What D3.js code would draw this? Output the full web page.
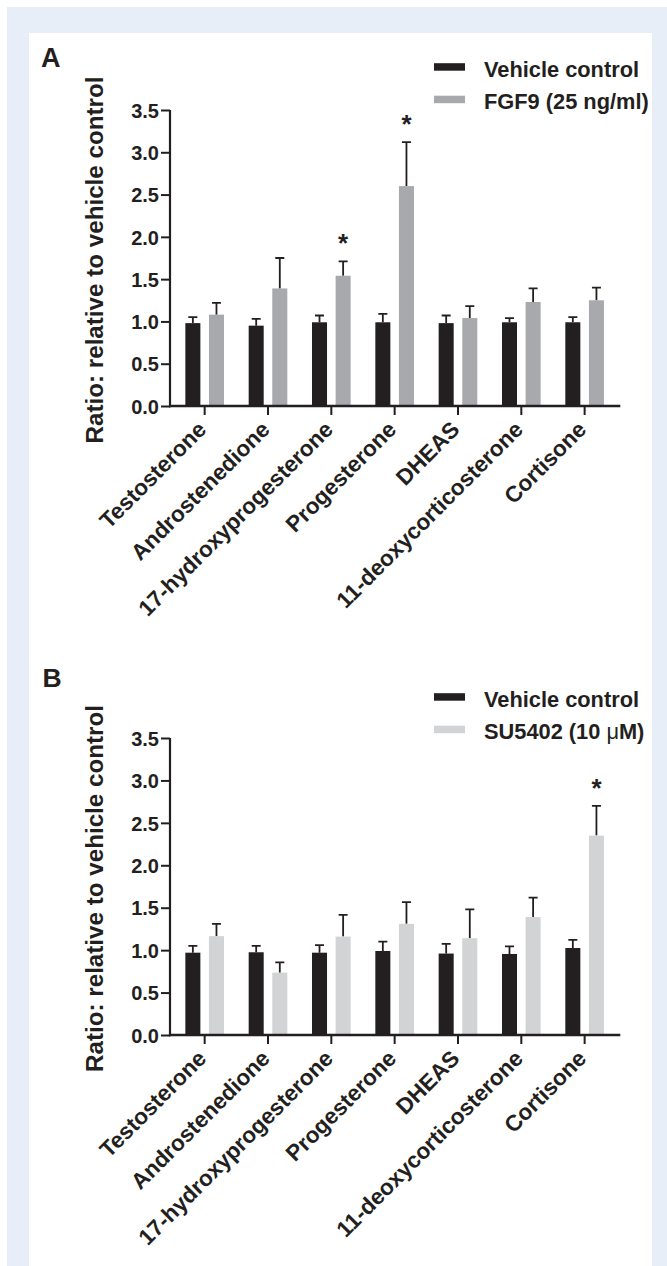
<!DOCTYPE html>
<html>
<head>
<meta charset="utf-8">
<script src="https://cdn.jsdelivr.net/npm/d3@7/dist/d3.min.js"></script>
<style>
  html, body { margin: 0; padding: 0; background: #ffffff; }
  svg { display: block; }
  text { font-family: "Liberation Sans", Arial, Helvetica, sans-serif; font-weight: bold; fill: #231f20; }
</style>
</head>
<body>
<svg id="chart" width="667" height="1266"></svg>
<script>
// ---------------- DATA ----------------
const categories = ["Testosterone", "Androstenedione", "17-hydroxyprogesterone", "Progesterone", "DHEAS", "11-deoxycorticosterone", "Cortisone"];
const yTicks = [0, 0.5, 1.0, 1.5, 2.0, 2.5, 3.0, 3.5];

// Panel A
const seriesNamesA = ["Vehicle control", "FGF9 (25 ng/ml)"];
const vehicleA = [0.98, 0.95, 0.99, 0.99, 0.98, 0.99, 0.99];
const vehicleErrA = [0.07, 0.08, 0.08, 0.10, 0.09, 0.05, 0.06];
const fgf9A = [1.08, 1.39, 1.54, 2.60, 1.04, 1.23, 1.25];
const fgf9ErrA = [0.14, 0.36, 0.17, 0.52, 0.14, 0.16, 0.15];
const sigA = [false, false, true, true, false, false, false];

// Panel B
const seriesNamesB = ["Vehicle control", "SU5402 (10 μM)"];
const vehicleB = [0.97, 0.975, 0.97, 0.99, 0.96, 0.955, 1.025];
const vehicleErrB = [0.08, 0.075, 0.09, 0.11, 0.115, 0.09, 0.095];
const su5402B = [1.165, 0.735, 1.16, 1.31, 1.14, 1.39, 2.35];
const su5402ErrB = [0.145, 0.12, 0.255, 0.255, 0.34, 0.23, 0.35];
const sigB = [false, false, false, false, false, false, true];

const yLabel = "Ratio: relative to vehicle control";

// ---------------- LAYOUT ----------------
const ink = "#231f20";
const panels = [
  { letter: "A", letterX: 41, letterY: 67, letterSize: 27,
    yBottom: 406, yTop: 110, legendY: 76.7,
    names: seriesNamesA, veh: vehicleA, vehErr: vehicleErrA, trt: fgf9A, trtErr: fgf9ErrA, sig: sigA,
    colors: [ink, "#a7a9ac"] },
  { letter: "B", letterX: 42.5, letterY: 687, letterSize: 26.5,
    yBottom: 1035, yTop: 738, legendY: 706.7,
    names: seriesNamesB, veh: vehicleB, vehErr: vehicleErrB, trt: su5402B, trtErr: su5402ErrB, sig: sigB,
    colors: [ink, "#d1d3d4"] }
];

const svg = d3.select("#chart");

// frame
svg.append("rect").attr("x", 7).attr("y", 7).attr("width", 660).attr("height", 1259).attr("fill", "#e7eef8");
svg.append("rect").attr("x", 29).attr("y", 33).attr("width", 623).attr("height", 1233).attr("fill", "#ffffff");

const x = d3.scaleBand().domain(categories).range([173, 616.3]).padding(0);
const sub = d3.scaleBand().domain([0, 1]).range([0, x.bandwidth()]).paddingInner(0.364).paddingOuter(0.523);
const yAxisX = 170;

panels.forEach(p => {
  const g = svg.append("g");
  const y = d3.scaleLinear().domain([0, 3.5]).range([p.yBottom, p.yTop]);

  // panel letter
  g.append("text").attr("x", p.letterX).attr("y", p.letterY).attr("font-size", p.letterSize).text(p.letter);

  // y label
  g.append("text")
    .attr("transform", `translate(103,${(p.yBottom + p.yTop) / 2 + 2}) rotate(-90)`)
    .attr("text-anchor", "middle").attr("font-size", 24.2).text(yLabel);

  // bars
  const rows = categories.map((c, i) => ({ c, i, vals: [
    { k: 0, v: p.veh[i], e: p.vehErr[i] },
    { k: 1, v: p.trt[i], e: p.trtErr[i] } ] }));

  const grp = g.selectAll("g.grp").data(rows).join("g").attr("class", "grp")
    .attr("transform", d => `translate(${x(d.c)},0)`);

  // error bars (upper only)
  grp.selectAll("path.err").data(d => d.vals).join("path").attr("class", "err")
    .attr("d", d => {
      const cx = sub(d.k) + sub.bandwidth() / 2;
      const top = y(d.v + d.e);
      return `M${cx},${y(d.v)}V${top}M${cx - 4.5},${top}H${cx + 4.5}`;
    })
    .attr("stroke", ink).attr("stroke-width", 1.8).attr("fill", "none");

  grp.selectAll("rect").data(d => d.vals).join("rect")
    .attr("x", d => sub(d.k)).attr("width", sub.bandwidth())
    .attr("y", d => y(d.v)).attr("height", d => y(0) - y(d.v))
    .attr("fill", d => p.colors[d.k]);

  // significance stars
  grp.filter(d => p.sig[d.i]).append("text")
    .attr("x", sub(1) + sub.bandwidth() / 2)
    .attr("y", d => y(d.vals[1].v + d.vals[1].e) - 9)
    .attr("text-anchor", "middle").attr("font-size", 26).text("*");

  // y axis
  const ya = g.append("g").attr("transform", `translate(${yAxisX},0)`)
    .call(d3.axisLeft(y).tickValues(yTicks).tickFormat(d3.format(".1f")).tickSize(9).tickPadding(2).tickSizeOuter(0));
  ya.select(".domain").remove();
  ya.append("line").attr("x1", 0).attr("x2", 0).attr("y1", y(0) + 1.2).attr("y2", y(3.5))
    .attr("stroke", ink).attr("stroke-width", 2.2);
  ya.selectAll(".tick line").attr("stroke", ink).attr("stroke-width", 2);
  ya.selectAll(".tick text").attr("font-size", 20).attr("font-family", null).attr("fill", ink).attr("dy", "0.36em");

  // x axis
  const xa = g.append("g").attr("transform", `translate(0,${y(0)})`)
    .call(d3.axisBottom(x).tickSize(9).tickSizeOuter(0));
  xa.select(".domain").remove();
  xa.append("line").attr("x1", yAxisX - 1).attr("x2", x.range()[1] + 4).attr("y1", 0).attr("y2", 0)
    .attr("stroke", ink).attr("stroke-width", 2.6);
  xa.selectAll(".tick line").attr("stroke", ink).attr("stroke-width", 2);
  xa.selectAll(".tick text")
    .attr("font-size", 22.5).attr("font-family", null).attr("fill", ink)
    .attr("text-anchor", "end")
    .attr("y", 0).attr("dy", 0)
    .attr("transform", "translate(3,25) rotate(-45)");

  // legend
  const lg = g.append("g");
  p.names.forEach((n, k) => {
    const by = p.legendY + k * 32.5;
    lg.append("rect").attr("x", 434).attr("y", by - 13.5).attr("width", 31).attr("height", 7.5).attr("fill", p.colors[k]);
    const t = lg.append("text").attr("x", 484).attr("y", by).attr("font-size", 21.8);
    if (n.includes("μ")) {
      const parts = n.split("μ");
      t.append("tspan").text(parts[0]);
      t.append("tspan").attr("font-weight", "normal").text("μ");
      t.append("tspan").text(parts[1]);
    } else {
      t.text(n);
    }
  });
});
</script>
</body>
</html>
